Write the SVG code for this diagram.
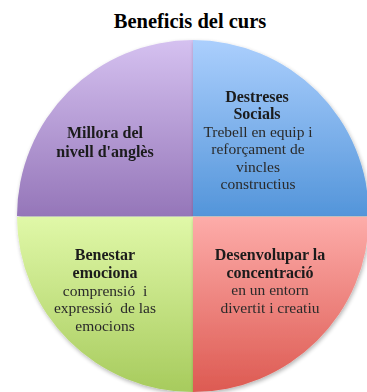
<svg xmlns="http://www.w3.org/2000/svg" width="367" height="392" viewBox="0 0 367 392">
<defs>
<linearGradient id="gP" x1="0" y1="0" x2="0" y2="1"><stop offset="0" stop-color="#d5c1f0"/><stop offset="1" stop-color="#9576b9"/></linearGradient>
<linearGradient id="gB" x1="0" y1="0" x2="0" y2="1"><stop offset="0" stop-color="#abcffd"/><stop offset="1" stop-color="#5395da"/></linearGradient>
<linearGradient id="gG" x1="0" y1="0" x2="0" y2="1"><stop offset="0" stop-color="#e0f8a8"/><stop offset="1" stop-color="#a7cb5d"/></linearGradient>
<linearGradient id="gR" x1="0" y1="0" x2="0" y2="1"><stop offset="0" stop-color="#fdaca9"/><stop offset="1" stop-color="#dd5a52"/></linearGradient>
<filter id="sh" x="-10%" y="-10%" width="120%" height="120%"><feGaussianBlur in="SourceAlpha" stdDeviation="2"/><feOffset dx="1" dy="2"/><feComponentTransfer><feFuncA type="linear" slope="0.3"/></feComponentTransfer><feMerge><feMergeNode/><feMergeNode in="SourceGraphic"/></feMerge></filter>
</defs>
<style>
.t{font-family:"Liberation Serif","Times New Roman",serif;text-anchor:middle;fill:#1a1a1a}
.h{font-weight:bold;font-size:16px}
.b{font-size:15.5px;fill:#2a2a2a}
</style>
<rect width="367" height="392" fill="#ffffff"/>
<text x="190" y="28" class="t" style="font-weight:bold;font-size:20.5px;fill:#000">Beneficis del curs</text>
<g id="purple" filter="url(#sh)">
<path d="M193,216 L17,216 A176,176 0 0 1 193,40 Z" fill="url(#gP)"/>
<text class="t h" x="105" y="138">Millora del</text>
<text class="t h" x="105" y="157">nivell d'anglès</text>
</g>
<g id="blue" filter="url(#sh)">
<path d="M193,216 L193,40 A176,176 0 0 1 369,216 Z" fill="url(#gB)"/>
<text class="t h" x="257" y="102">Destreses</text>
<text class="t h" x="257" y="119">Socials</text>
<text class="t b" x="258" y="137">Trebell en equip i</text>
<text class="t b" x="258" y="154">reforçament de</text>
<text class="t b" x="258" y="172">vincles</text>
<text class="t b" x="258" y="189">constructius</text>
</g>
<g id="green" filter="url(#sh)">
<path d="M193,217 L193,392 A176,176 0 0 1 17,217 Z" fill="url(#gG)"/>
<text class="t h" x="105" y="260">Benestar</text>
<text class="t h" x="105" y="278">emociona</text>
<text class="t b" x="105" y="296" xml:space="preserve">comprensió  i</text>
<text class="t b" x="105" y="313" xml:space="preserve">expressió  de las</text>
<text class="t b" x="105" y="331">emocions</text>
</g>
<g id="red" filter="url(#sh)">
<path d="M193,217 L369,217 A176,176 0 0 1 193,392 Z" fill="url(#gR)"/>
<text class="t h" x="270" y="260">Desenvolupar la</text>
<text class="t h" x="270" y="278">concentració</text>
<text class="t b" x="270" y="295">en un entorn</text>
<text class="t b" x="270" y="313">divertit i creatiu</text>
</g>
<g id="connectors"/>
</svg>
